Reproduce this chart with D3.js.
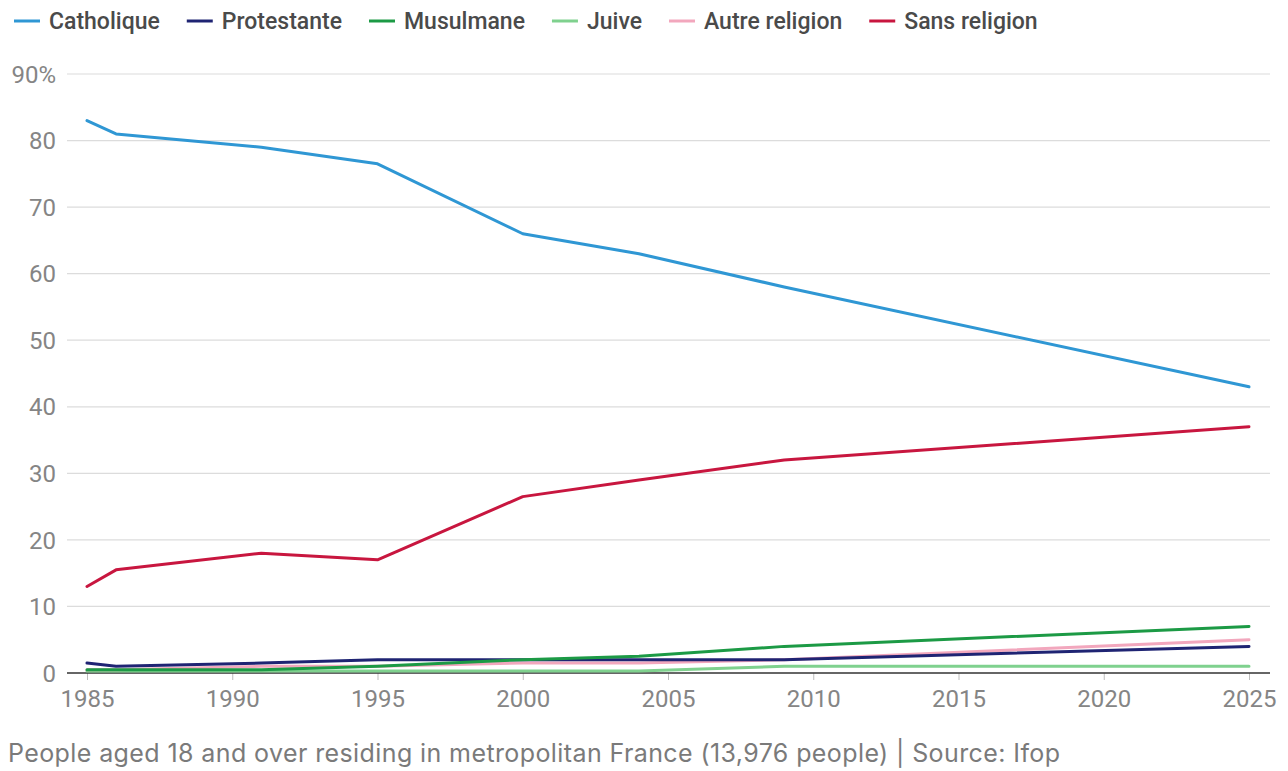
<!DOCTYPE html>
<html>
<head>
<meta charset="utf-8">
<script src="https://cdn.jsdelivr.net/npm/d3@7"></script>
<style>
  body { margin: 0; background: #fff; }
  svg { display: block; }
  .cond { font-family: "Roboto", "DejaVu Sans", sans-serif; }
</style>
</head>
<body>
<div id="chart"></div>
<script>
// --- Données ---
const years = [1985, 1986, 1991, 1995, 2000, 2004, 2009, 2025];
const catholique = [83, 81, 79, 76.5, 66, 63, 58, 43];
const protestante = [1.5, 1, 1.5, 2, 2, 2, 2, 4];
const musulmane = [0.5, 0.5, 0.5, 1, 2, 2.5, 4, 7];
const juive = [0.3, 0.3, 0.3, 0.3, 0.3, 0.3, 1, 1];
const autre = [0.5, 0.5, 1, 1, 1.5, 1.5, 2, 5];
const sansReligion = [13, 15.5, 18, 17, 26.5, 29, 32, 37];

const seriesNames = ["Catholique", "Protestante", "Musulmane", "Juive", "Autre religion", "Sans religion"];
const seriesColors = ["#2f97d4", "#1f2473", "#1c9a45", "#7fd18e", "#f2a7bd", "#c8163f"];
const seriesValues = [catholique, protestante, musulmane, juive, autre, sansReligion];

const yTicks = [0, 10, 20, 30, 40, 50, 60, 70, 80, 90];
const xTicks = [1985, 1990, 1995, 2000, 2005, 2010, 2015, 2020, 2025];
const footer = "People aged 18 and over residing in metropolitan France (13,976 people) | Source: Ifop";

// --- Dimensions ---
const width = 1288;
const height = 771;

const svg = d3.select("#chart").append("svg")
  .attr("width", width)
  .attr("height", height);

const x = d3.scaleLinear().domain([1985, 2025]).range([87, 1249]);
const y = d3.scaleLinear().domain([0, 90]).range([673, 74]);

// --- Grille ---
svg.append("g")
  .selectAll("line")
  .data(yTicks.filter(d => d > 0))
  .join("line")
  .attr("x1", 67)
  .attr("x2", 1270)
  .attr("y1", d => y(d))
  .attr("y2", d => y(d))
  .attr("stroke", "#dcdcdc")
  .attr("stroke-width", 1.2);

// --- Axe Y (labels) ---
svg.append("g")
  .selectAll("text")
  .data(yTicks)
  .join("text")
  .attr("class", "cond")
  .attr("x", 56)
  .attr("y", d => y(d))
  .attr("dy", "0.36em")
  .attr("text-anchor", "end")
  .style("font-size", "24px")
  .style("fill", "#858585")
  .text(d => d === 90 ? "90%" : d);

// --- Axe X ---
const xAxis = svg.append("g")
  .attr("transform", `translate(0,${y(0)})`)
  .attr("font-family", null)
  .call(d3.axisBottom(x).tickValues(xTicks).tickFormat(d3.format("d")).tickSize(7).tickPadding(10));
xAxis.attr("font-family", null);
xAxis.select(".domain").remove();
xAxis.selectAll(".tick line").attr("stroke", "#bdbdbd");
xAxis.selectAll(".tick text")
  .attr("class", "cond")
  .style("font-size", "24px")
  .style("fill", "#858585");
svg.append("line")
  .attr("x1", 67).attr("x2", 1270)
  .attr("y1", y(0)).attr("y2", y(0))
  .attr("stroke", "#333").attr("stroke-width", 1.5);

// --- Lignes ---
const line = d3.line()
  .x((d, i) => x(years[i]))
  .y(d => y(d));

const drawOrder = [3, 4, 1, 2, 5, 0];
svg.append("g")
  .selectAll("path")
  .data(drawOrder)
  .join("path")
  .attr("d", k => line(seriesValues[k]))
  .attr("fill", "none")
  .attr("stroke", k => seriesColors[k])
  .attr("stroke-width", 3)
  .attr("stroke-linejoin", "round")
  .attr("stroke-linecap", "round");

// --- Légende ---
const legend = svg.append("g").attr("transform", "translate(14,21)");
let lx = 0;
seriesNames.forEach((name, i) => {
  const g = legend.append("g").attr("transform", `translate(${lx},0)`);
  g.append("line")
    .attr("x1", 0).attr("x2", 26)
    .attr("stroke", seriesColors[i])
    .attr("stroke-width", 3);
  const t = g.append("text")
    .attr("class", "cond")
    .attr("x", 35)
    .attr("dy", "0.36em")
    .style("font-size", "23px")
    .style("font-weight", "500")
    .style("fill", "#4a4a4a")
    .text(name);
  lx += 35 + t.node().getComputedTextLength() + 27;
});

// --- Source ---
svg.append("text")
  .attr("x", 8)
  .attr("y", 762)
  .style("font-family", "'Inter', 'Noto Sans', sans-serif")
  .style("font-size", "25px")
  .style("letter-spacing", "0.4px")
  .style("fill", "#7a7a7a")
  .text(footer);
</script>
</body>
</html>
